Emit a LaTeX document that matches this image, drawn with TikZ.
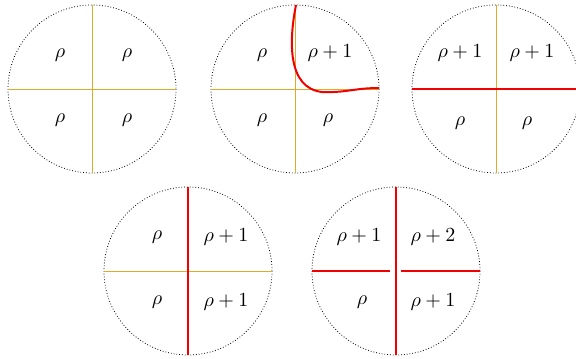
\documentclass[tikz,border=0pt]{standalone}
\usetikzlibrary{calc}
\definecolor{splitgold}{RGB}{222,170,40}
\definecolor{wallred}{RGB}{240,0,0}

\begin{document}
\begin{tikzpicture}[
    x=0.5pt, y=-0.5pt,
    disk/.style={draw, densely dotted, thin},
    split/.style={draw=splitgold, line width=0.5pt},
    wall/.style={draw=wallred, line width=1pt},
    val/.style={inner sep=1pt}
]
\useasboundingbox (0,0) rectangle (576,358);
\clip (0,0) rectangle (576,358);

% CENTRES OF THE FIVE DISKS
\coordinate (c1) at (92,89);
\coordinate (c2) at (295,89);
\coordinate (c3) at (496,89);
\coordinate (c4) at (188,271);
\coordinate (c5) at (396,271);

\foreach \c in {c1,c2,c3,c4,c5}
    \draw[disk] (\c) circle (84);

% DISK 1
\draw[split] (c1) ++(-84,0) -- ++(168,0);
\draw[split] (c1) ++(0,-84) -- ++(0,168);
\node[val] (a1) at (60,55) {$\rho$};
\node[val] (b1) at (127,55) {$\rho$};
\node[val] (d1) at (60,120) {$\rho$};
\node[val] (e1) at (127,120) {$\rho$};

% DISK 2
\draw[split] (c2) ++(-84,0) -- ++(168,0);
\draw[split] (c2) ++(0,-84) -- ++(0,168);
\draw[wall] (296,5) .. controls (289,40) and (287,88) .. (322,92)
    .. controls (345,93) and (355,88) .. (379,88);
\node[val] (a2) at (262,55) {$\rho$};
\node[val] (b2) at (330,53) {$\rho+1$};
\node[val] (d2) at (262,120) {$\rho$};
\node[val] (e2) at (328,120) {$\rho$};

% DISK 3
\draw[split] (c3) ++(0,-84) -- ++(0,168);
\draw[wall] (c3) ++(-84,0) -- ++(168,0);
\node[val] (a3) at (460,53) {$\rho+1$};
\node[val] (b3) at (532,53) {$\rho+1$};
\node[val] (d3) at (460,123) {$\rho$};
\node[val] (e3) at (527,123) {$\rho$};

% DISK 4
\draw[split] (c4) ++(-84,0) -- ++(168,0);
\draw[wall] (c4) ++(0,-84) -- ++(0,168);
\node[val] (a4) at (157,237) {$\rho$};
\node[val] (b4) at (226,237) {$\rho+1$};
\node[val] (d4) at (157,302) {$\rho$};
\node[val] (e4) at (226,302) {$\rho+1$};

% DISK 5
\draw[wall] (c5) ++(0,-84) -- ++(0,168);
\draw[wall] (c5) ++(-84,0) -- ++(78,0);
\draw[wall] (c5) ++(5,0) -- ++(79,0);
\node[val] (a5) at (359,237) {$\rho+1$};
\node[val] (b5) at (433,237) {$\rho+2$};
\node[val] (d5) at (362,302) {$\rho$};
\node[val] (e5) at (433,302) {$\rho+1$};

\end{tikzpicture}
\end{document}
